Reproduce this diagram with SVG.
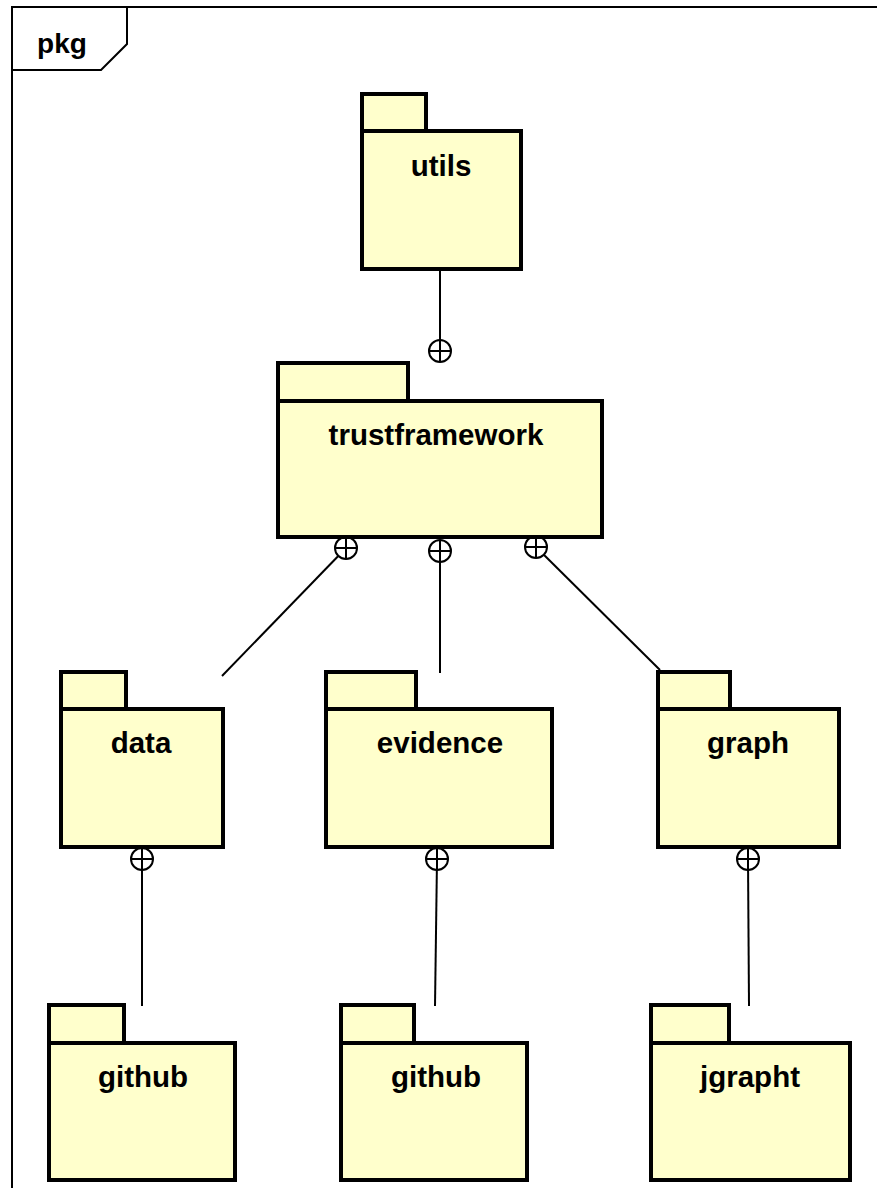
<svg xmlns="http://www.w3.org/2000/svg" width="877" height="1188" viewBox="0 0 877 1188">
  <defs>
    <style>
      .pk { fill: #ffffcc; stroke: #000; stroke-width: 4; }
      .lbl { font-family: "Liberation Sans", Arial, sans-serif; font-weight: bold; font-size: 29.5px; text-anchor: middle; fill: #000; }
      .frame { fill: none; stroke: #000; stroke-width: 2; }
      .conn line { stroke: #000; stroke-width: 2; }
      .nest circle { fill: #fff; stroke: #000; stroke-width: 2; }
      .nest path { stroke: #000; stroke-width: 2; fill: none; }
    </style>
    <!-- containment (nesting) symbol: circle with a plus -->
    <g id="nestMark" class="nest">
      <circle cx="0" cy="0" r="11"/>
      <path d="M-11 0H11M0 -11V11"/>
    </g>
  </defs>
  <rect width="877" height="1188" fill="#fff"/>

  <!-- diagram frame -->
  <g id="frame">
    <rect class="frame" x="12" y="7" width="880" height="1200"/>
    <path class="frame" d="M127 7V44L101 70H12"/>
    <text x="62" y="53" class="lbl" style="font-size:28px">pkg</text>
  </g>

  <!-- connectors -->
  <g id="connectors" class="conn">
    <line x1="440" y1="270" x2="440" y2="340"/>
    <line x1="346" y1="548" x2="222" y2="676"/>
    <line x1="440" y1="551" x2="440" y2="673"/>
    <line x1="536" y1="547" x2="660" y2="670"/>
    <line x1="142" y1="859" x2="142" y2="1006"/>
    <line x1="437" y1="859" x2="435" y2="1006"/>
    <line x1="748" y1="859" x2="749" y2="1006"/>
    <use href="#nestMark" x="440" y="351"/>
    <use href="#nestMark" x="346" y="548"/>
    <use href="#nestMark" x="440" y="551"/>
    <use href="#nestMark" x="536" y="547"/>
    <use href="#nestMark" x="142" y="859"/>
    <use href="#nestMark" x="437" y="859"/>
    <use href="#nestMark" x="748" y="859"/>
  </g>

  <g id="utils">
    <rect class="pk" x="362" y="94" width="64" height="37"/>
    <rect class="pk" x="362" y="131" width="159" height="138"/>
    <text x="441" y="176" class="lbl">utils</text>
  </g>

  <g id="trustframework">
    <rect class="pk" x="278" y="363" width="130" height="38"/>
    <rect class="pk" x="278" y="401" width="324" height="136"/>
    <text x="436" y="445" class="lbl">trustframework</text>
  </g>

  <g id="data">
    <rect class="pk" x="61" y="672" width="65" height="37"/>
    <rect class="pk" x="61" y="709" width="162" height="138"/>
    <text x="141" y="753" class="lbl">data</text>
  </g>

  <g id="evidence">
    <rect class="pk" x="326" y="672" width="90" height="37"/>
    <rect class="pk" x="326" y="709" width="226" height="138"/>
    <text x="440" y="753" class="lbl">evidence</text>
  </g>

  <g id="graph">
    <rect class="pk" x="658" y="672" width="72" height="37"/>
    <rect class="pk" x="658" y="709" width="181" height="138"/>
    <text x="748" y="753" class="lbl">graph</text>
  </g>

  <g id="data-github">
    <rect class="pk" x="49" y="1005" width="75" height="38"/>
    <rect class="pk" x="49" y="1043" width="186" height="137"/>
    <text x="143" y="1087" class="lbl">github</text>
  </g>

  <g id="evidence-github">
    <rect class="pk" x="341" y="1005" width="73" height="38"/>
    <rect class="pk" x="341" y="1043" width="186" height="137"/>
    <text x="436" y="1087" class="lbl">github</text>
  </g>

  <g id="jgrapht">
    <rect class="pk" x="651" y="1005" width="78" height="38"/>
    <rect class="pk" x="651" y="1043" width="199" height="137"/>
    <text x="750" y="1087" class="lbl">jgrapht</text>
  </g>
</svg>
